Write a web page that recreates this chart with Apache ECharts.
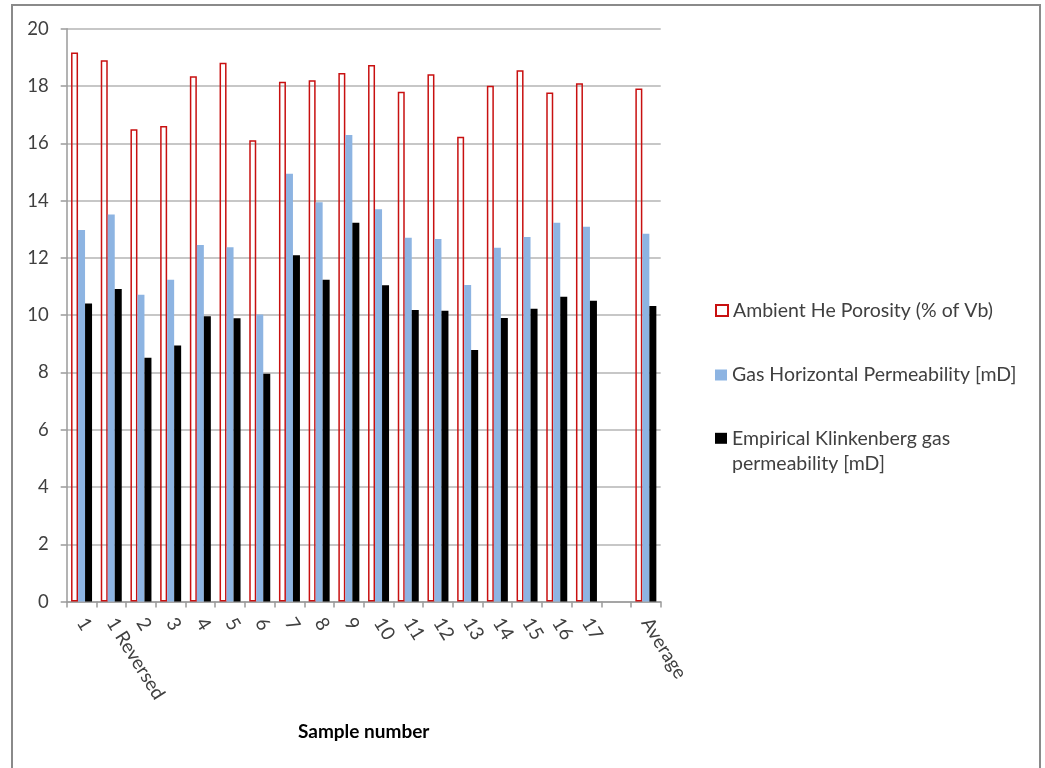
<!DOCTYPE html>
<html>
<head>
<meta charset="utf-8">
<script src="https://cdn.jsdelivr.net/npm/echarts@6/dist/echarts.min.js"></script>
<style>
  html, body { margin: 0; padding: 0; background: #ffffff; }
  #chart { width: 1045px; height: 768px; }
</style>
</head>
<body>
<div id="chart"></div>
<script>
// Sample labels along the x axis (one empty slot before the average)
const categories = ['1', '1 Reversed', '2', '3', '4', '5', '6', '7', '8', '9', '10', '11', '12', '13', '14', '15', '16', '17', '', 'Average'];

// Ambient He porosity, % of bulk volume
const porosity = [19.17, 18.9, 16.49, 16.6, 18.34, 18.81, 16.11, 18.15, 18.2, 18.45, 18.73, 17.8, 18.41, 16.23, 18.01, 18.55, 17.77, 18.1, null, 17.91];

// Gas horizontal permeability, mD
const gasPermeability = [12.97, 13.51, 10.71, 11.24, 12.45, 12.37, 10.02, 14.94, 13.94, 16.29, 13.7, 12.7, 12.66, 11.05, 12.35, 12.73, 13.23, 13.09, null, 12.84];

// Empirical Klinkenberg-corrected gas permeability, mD
const klinkenberg = [10.41, 10.91, 8.51, 8.94, 9.96, 9.89, 7.95, 12.09, 11.24, 13.23, 11.04, 10.18, 10.15, 8.78, 9.9, 10.22, 10.64, 10.5, null, 10.32];

const seriesNames = [
  'Ambient He Porosity (% of Vb)',
  'Gas Horizontal Permeability [mD]',
  'Empirical Klinkenberg gas\npermeability [mD]'
];

const textColor = '#404040';
const fontFamily = 'Lato, "Liberation Sans", sans-serif';

const chart = echarts.init(document.getElementById('chart'), null, { renderer: 'canvas' });

const legendText = { color: textColor, fontSize: 19.5, fontFamily: fontFamily, lineHeight: 25 };
const legendBase = { orient: 'vertical', left: 715, padding: 0, itemWidth: 12, itemHeight: 11, icon: 'rect', textStyle: legendText };

chart.setOption({
  animation: false,
  backgroundColor: '#ffffff',
  graphic: [{
    type: 'rect',
    silent: true,
    shape: { x: 12, y: 5, width: 1028, height: 780 },
    style: { fill: 'none', stroke: '#8a8a8a', lineWidth: 2 }
  }],
  grid: { left: 66.7, right: 384.3, top: 28.7, bottom: 166.4 },
  legend: [
    Object.assign({}, legendBase, { data: [seriesNames[0]], top: 298 }),
    Object.assign({}, legendBase, { data: [seriesNames[1]], top: 362.5 }),
    // leading blank line keeps the marker level with the first text line
    Object.assign({}, legendBase, { data: [seriesNames[2]], top: 400.8, formatter: function (name) { return '\n' + name; } })
  ],
  xAxis: {
    type: 'category',
    data: categories,
    boundaryGap: true,
    name: 'Sample number',
    nameLocation: 'middle',
    nameGap: 121,
    nameTextStyle: { color: '#000000', fontSize: 19, fontWeight: 'bold', fontFamily: fontFamily },
    axisLine: { show: true, lineStyle: { color: '#9a9a9a', width: 1.5 } },
    axisTick: { show: true, length: 6, alignWithLabel: false, interval: 0, lineStyle: { color: '#9a9a9a', width: 1.5 } },
    axisLabel: {
      interval: 0,
      rotate: -58,
      margin: 18,
      color: textColor,
      fontSize: 19,
      fontFamily: fontFamily
    },
    splitLine: { show: false }
  },
  yAxis: {
    type: 'value',
    min: 0,
    max: 20,
    interval: 2,
    axisLine: { show: true, lineStyle: { color: '#9a9a9a', width: 1.5 } },
    axisTick: { show: true, length: 6, lineStyle: { color: '#9a9a9a', width: 1.5 } },
    axisLabel: { margin: 18, color: textColor, fontSize: 18.5, fontFamily: fontFamily },
    splitLine: { show: true, lineStyle: { color: '#b4b4b4', width: 1.5 } }
  },
  series: [
    {
      name: seriesNames[0],
      type: 'bar',
      data: porosity,
      barWidth: 7,
      barGap: '0%',
      itemStyle: { color: 'rgba(255,255,255,0)', borderColor: '#C81010', borderWidth: 1.5 }
    },
    {
      name: seriesNames[1],
      type: 'bar',
      data: gasPermeability,
      barWidth: 7,
      barGap: '0%',
      itemStyle: { color: '#8DB4E2' }
    },
    {
      name: seriesNames[2],
      type: 'bar',
      data: klinkenberg,
      barWidth: 7,
      barGap: '0%',
      itemStyle: { color: '#000000' }
    }
  ]
});
</script>
</body>
</html>
